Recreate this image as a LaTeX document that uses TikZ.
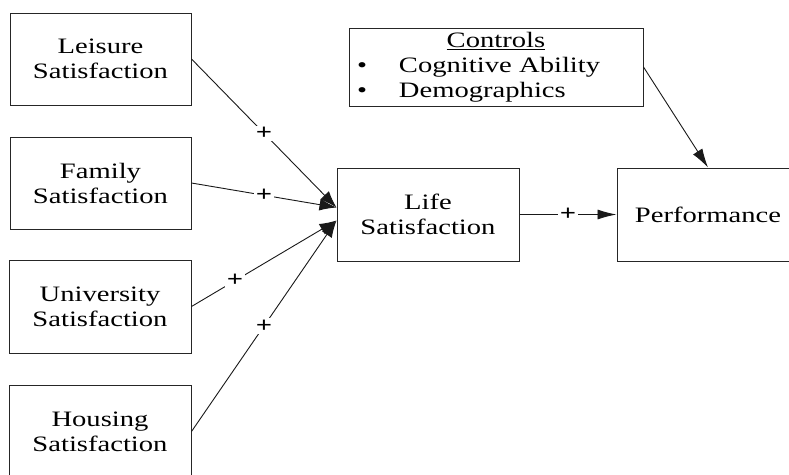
\documentclass[tikz,border=0pt]{standalone}
\usepackage{fontspec}
\setmainfont{Liberation Serif}[FakeStretch=1.3]
\usetikzlibrary{arrows.meta}
\begin{document}
\begin{tikzpicture}[x=1pt,y=-1pt,
  font=\fontsize{22}{25}\selectfont,
  box/.style={draw=black!85, line width=1pt, inner sep=0pt, align=center,
              minimum width=182pt, minimum height=93pt, text=black},
  conn/.style={draw=black!90, line width=0.9pt, -{Latex[length=17pt,width=12pt]}},
  plus/.style={fill=white, inner sep=1.5pt, text=black, font=\fontsize{22}{25}\selectfont\bfseries}]
\useasboundingbox (0,0) rectangle (789,474);
\clip (0,0) rectangle (789,474);
\fill[white] (0,0) rectangle (789,474);

\node[box, minimum width=181pt, minimum height=92pt] (leisure) at (100.5,59) {Leisure\\Satisfaction};
\node[box, minimum width=181pt, minimum height=92pt] (family) at (100.5,183) {Family\\Satisfaction};
\node[box] (univ) at (100,306.5) {University\\Satisfaction};
\node[box] (housing) at (100,431.5) {Housing\\Satisfaction};
\node[box] (life) at (428,214.5) {Life\\Satisfaction};
\node[box] (perf) at (708,214.5) {Performance};
\node[box, minimum width=294pt, minimum height=78pt, text width=278pt, inner xsep=8pt, align=left] (controls) at (496,67)
  {\makebox[\linewidth]{\underline{Controls}}\\
   \makebox[42pt][l]{\textbullet}Cognitive Ability\\
   \makebox[42pt][l]{\textbullet}Demographics};

\path (life.west) ++(0,-7) coordinate (inA);
\path (life.west) ++(0,6) coordinate (inB);

\draw[conn] (leisure.east) -- node[plus, pos=0.5] {+} (inA);
\draw[conn] (family.east) -- node[plus, pos=0.5] {+} (inA);
\draw[conn] (univ.east) -- node[plus, pos=0.3] {+} (inB);
\draw[conn] (housing.east) -- node[plus, pos=0.5] {+} (inB);
\draw[conn, -{Latex[length=19pt,width=10pt]}] (life.east) -- node[plus, pos=0.5] {+} (perf.west);
\draw[conn, -{Latex[length=19pt,width=11pt]}] (controls.east) -- (perf.north);
\end{tikzpicture}
\end{document}
